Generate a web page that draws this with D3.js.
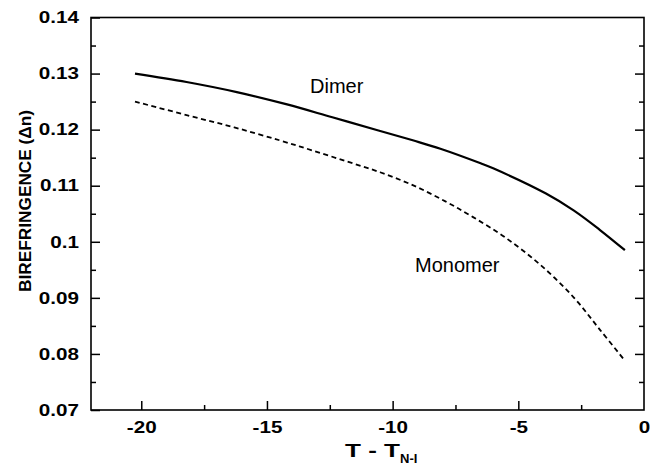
<!DOCTYPE html>
<html>
<head>
<meta charset="utf-8">
<script src="https://cdn.jsdelivr.net/npm/d3@7"></script>
<style>
  body { margin: 0; background: #fff; }
  text { font-family: "Liberation Sans", Arial, sans-serif; }
</style>
</head>
<body>
<svg width="650" height="465" id="mainsvg"></svg>
<script>
  // data
  const dimerT = [-20.25, -18.2, -16.2, -14.2, -12.4, -10.6, -9.2, -8.1, -6.5, -6.0, -3.9, -2.8, -1.75, -0.76];
  const dimerN = [0.1300, 0.1285, 0.1267, 0.1245, 0.1222, 0.1199, 0.1181, 0.1166, 0.1140, 0.1131, 0.1086, 0.1056, 0.1021, 0.0985];
  const monoT = [-20.25, -18.2, -16.3, -14.5, -13.2, -11.8, -10.5, -9.2, -7.9, -6.8, -5.5, -4.1, -2.8, -1.75, -0.76];
  const monoN = [0.1250, 0.1226, 0.1204, 0.1181, 0.1163, 0.1143, 0.1124, 0.1101, 0.1072, 0.1044, 0.1007, 0.0958, 0.0901, 0.0843, 0.0788];
  const xTicks = [-20, -15, -10, -5, 0];
  const yTicks = [0.07, 0.08, 0.09, 0.1, 0.11, 0.12, 0.13, 0.14];

  const svg = d3.select('#mainsvg');
  const margin = { top: 17.5, right: 6, bottom: 55, left: 91 };
  const width = 650, height = 465;

  const x = d3.scaleLinear().domain([-22, 0]).range([margin.left, width - margin.right]);
  const y = d3.scaleLinear().domain([0.07, 0.14]).range([height - margin.bottom, margin.top]);

  const x0 = x.range()[0], x1 = x.range()[1], y0 = y.range()[0], y1 = y.range()[1];

  // widen scanned-looking text a bit
  function stretch(sel, k) {
    sel.each(function () {
      const w = this.getComputedTextLength();
      this.setAttribute('textLength', w * k);
      this.setAttribute('lengthAdjust', 'spacingAndGlyphs');
    });
  }

  // frame
  svg.append('rect')
    .attr('x', x0).attr('y', y1)
    .attr('width', x1 - x0).attr('height', y0 - y1)
    .attr('fill', 'none').attr('stroke', '#000').attr('stroke-width', 1.6);

  // inward ticks, major + minor
  const minorX = [-17.5, -12.5, -7.5, -2.5];
  const minorY = [0.075, 0.085, 0.095, 0.105, 0.115, 0.125, 0.135];

  const xAxis = d3.axisBottom(x).tickValues(xTicks).tickSize(-9).tickPadding(11).tickFormat(d => String(d));
  const gx = svg.append('g').attr('transform', `translate(0,${y0})`).call(xAxis);
  gx.select('.domain').remove();
  gx.selectAll('.tick').filter(d => d === 0).select('line').remove();
  gx.selectAll('.tick text').attr('font-size', 16.5).attr('fill', '#000').style('font-weight', 'bold');
  stretch(gx.selectAll('.tick text'), 1.25);

  svg.append('g').attr('transform', `translate(0,${y0})`)
    .call(d3.axisBottom(x).tickValues(minorX).tickSize(-5).tickFormat(''))
    .select('.domain').remove();

  const yAxis = d3.axisLeft(y).tickValues(yTicks).tickSize(-9).tickPadding(12).tickFormat(d => String(+d.toFixed(2)));
  const gy = svg.append('g').attr('transform', `translate(${x0},0)`).call(yAxis);
  gy.select('.domain').remove();
  gy.selectAll('.tick text').attr('font-size', 16.5).attr('fill', '#000').style('font-weight', 'bold');
  stretch(gy.selectAll('.tick text'), 1.25);

  svg.append('g').attr('transform', `translate(${x0},0)`)
    .call(d3.axisLeft(y).tickValues(minorY).tickSize(-5).tickFormat(''))
    .select('.domain').remove();

  // right side ticks
  svg.append('g').attr('transform', `translate(${x1},0)`)
    .call(d3.axisRight(y).tickValues(yTicks.slice(1, -1)).tickSize(-9).tickFormat(''))
    .select('.domain').remove();
  svg.append('g').attr('transform', `translate(${x1},0)`)
    .call(d3.axisRight(y).tickValues(minorY).tickSize(-5).tickFormat(''))
    .select('.domain').remove();

  svg.selectAll('.tick line').attr('stroke', '#000').attr('stroke-width', 1.5);

  // curves
  const line = d3.line().x(d => x(d[0])).y(d => y(d[1])).curve(d3.curveCatmullRom.alpha(0.5));

  svg.append('path')
    .datum(d3.zip(dimerT, dimerN))
    .attr('d', line)
    .attr('fill', 'none').attr('stroke', '#000').attr('stroke-width', 2.2);

  svg.append('path')
    .datum(d3.zip(monoT, monoN))
    .attr('d', line)
    .attr('fill', 'none').attr('stroke', '#000').attr('stroke-width', 1.8)
    .attr('stroke-dasharray', '5,3.5');

  // labels
  svg.append('text').text('Dimer')
    .attr('x', 310).attr('y', 93).attr('font-size', 20).attr('fill', '#000');
  svg.append('text').text('Monomer')
    .attr('x', 415).attr('y', 272).attr('font-size', 20).attr('fill', '#000');

  // axis titles
  svg.append('text')
    .attr('transform', 'translate(31,201) rotate(-90)')
    .attr('text-anchor', 'middle')
    .attr('font-size', 16).attr('fill', '#000')
    .attr('textLength', 182).attr('lengthAdjust', 'spacingAndGlyphs')
    .style('font-weight', 'bold')
    .text('BIREFRINGENCE (Δn)');

  const xt = svg.append('text')
    .attr('x', 345).attr('y', 457)
    .attr('font-size', 18).attr('fill', '#000')
    .style('font-weight', 'bold');
  xt.append('tspan').attr('textLength', 55).attr('lengthAdjust', 'spacingAndGlyphs').text('T - T');
  xt.append('tspan').attr('dy', 6).attr('font-size', 13).text('N-I');
</script>
</body>
</html>
